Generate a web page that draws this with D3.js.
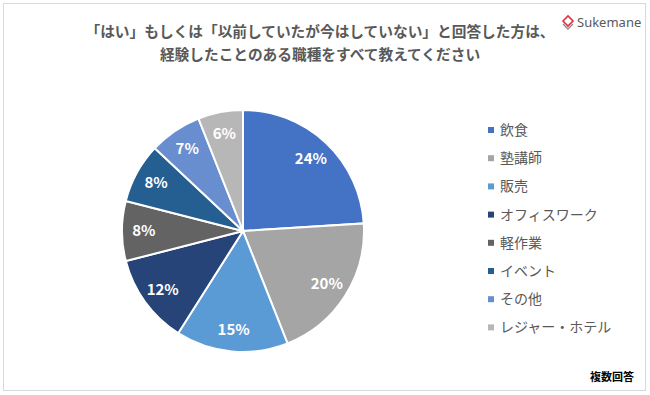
<!DOCTYPE html>
<html>
<head>
<meta charset="utf-8">
<script src="https://cdn.jsdelivr.net/npm/d3@7"></script>
<style>
  body { margin: 0; background: #fff; }
  svg { display: block; font-family: "Noto Sans CJK JP", "Noto Sans", sans-serif; }
</style>
</head>
<body>
<div id="chart"></div>
<script>
// Chart data
const titleLines = ["「はい」もしくは「以前していたが今はしていない」と回答した方は、", "経験したことのある職種をすべて教えてください"]
const categories = ["飲食", "塾講師", "販売", "オフィスワーク", "軽作業", "イベント", "その他", "レジャー・ホテル"]
const values = [24, 20, 15, 12, 8, 8, 7, 6]
const colours = ["#4472C4", "#A5A5A5", "#5B9BD5", "#264478", "#636363", "#255E91", "#698ED0", "#B7B7B7"]

const width = 650
const height = 395
const cx = 243
const cy = 231
const radius = 121

const svg = d3.select("#chart")
  .append("svg")
  .attr("width", width)
  .attr("height", height)

// Outer frame
svg.append("rect")
  .attr("x", 3.5)
  .attr("y", 3.5)
  .attr("width", 642)
  .attr("height", 387)
  .attr("fill", "#fff")
  .attr("stroke", "#d9d9d9")
  .attr("stroke-width", 1)

// Title
svg.append("g")
  .selectAll("text")
  .data(titleLines)
  .join("text")
  .attr("x", 320)
  .attr("y", (d, i) => 37 + i * 23)
  .attr("text-anchor", "middle")
  .attr("fill", "#595959")
  .attr("font-size", 14.7)
  .attr("font-weight", "bold")
  .text(d => d)

// Logo
const logo = svg.append("g").attr("transform", "translate(568, 22)")
logo.append("path")
  .attr("d", "M-5,-1 L0,-6 L5,-1 L0,4 Z")
  .attr("fill", "none")
  .attr("stroke", "#e0303a")
  .attr("stroke-width", 1.6)
logo.append("path")
  .attr("d", "M-5,2 L0,7 L5,2")
  .attr("fill", "none")
  .attr("stroke", "#8c8c8c")
  .attr("stroke-width", 1.4)
logo.append("text")
  .attr("x", 9)
  .attr("y", 5)
  .attr("fill", "#595959")
  .attr("font-size", 13)
  .attr("font-family", "'Noto Sans', sans-serif")
  .text("Sukemane")

// Pie
const pie = d3.pie().sort(null).value(d => d)
const arc = d3.arc().innerRadius(0).outerRadius(radius)
const labelArc = d3.arc().innerRadius(radius * 0.82).outerRadius(radius * 0.82)
const arcs = pie(values)

const pieGroup = svg.append("g").attr("transform", "translate(" + cx + "," + cy + ")")

pieGroup.selectAll("path")
  .data(arcs)
  .join("path")
  .attr("d", arc)
  .attr("fill", (d, i) => colours[i])
  .attr("stroke", "#fff")
  .attr("stroke-width", 2)

pieGroup.selectAll("text")
  .data(arcs)
  .join("text")
  .attr("transform", d => "translate(" + labelArc.centroid(d) + ")")
  .attr("text-anchor", "middle")
  .attr("dy", "0.35em")
  .attr("fill", "#fff")
  .attr("font-size", 15)
  .attr("font-weight", "bold")
  .text(d => d.value + "%")

// Legend
const legend = svg.append("g").attr("transform", "translate(488, 130)")
const rowGap = 28.2

categories.forEach((name, i) => {
  const row = legend.append("g").attr("transform", "translate(0," + (i * rowGap) + ")")
  row.append("rect")
    .attr("x", 0)
    .attr("y", -3)
    .attr("width", 6)
    .attr("height", 6)
    .attr("fill", colours[i])
  row.append("text")
    .attr("x", 12)
    .attr("y", 0)
    .attr("dy", "0.35em")
    .attr("fill", "#595959")
    .attr("font-size", 14)
    .text(name)
})

// Note
svg.append("text")
  .attr("x", 634)
  .attr("y", 381)
  .attr("text-anchor", "end")
  .attr("fill", "#000")
  .attr("font-size", 11)
  .attr("font-weight", "bold")
  .text("複数回答")
</script>
</body>
</html>
